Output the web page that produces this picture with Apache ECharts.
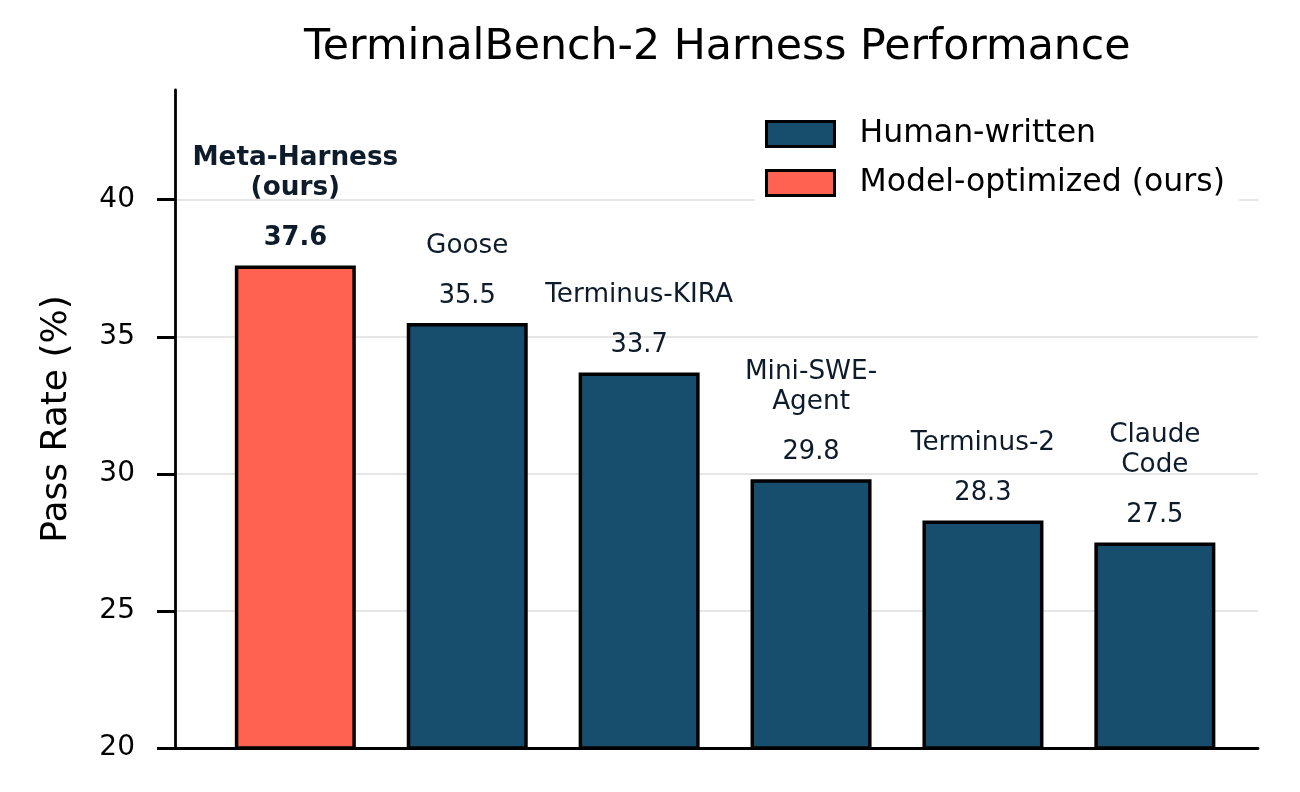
<!DOCTYPE html>
<html>
<head>
<meta charset="utf-8">
<script src="https://cdn.jsdelivr.net/npm/echarts@6.0.0/dist/echarts.min.js"></script>
<style>
  html, body { margin: 0; padding: 0; background: #fff; }
  #chart { width: 1300px; height: 792px; }
</style>
</head>
<body>
<div id="chart"></div>
<script>
// harness names (line breaks as in the figure) and pass rates
const harnesses = ['Meta-Harness\n(ours)', 'Goose', 'Terminus-KIRA', 'Mini-SWE-\nAgent', 'Terminus-2', 'Claude\nCode'];
const passRates = [37.6, 35.5, 33.7, 29.8, 28.3, 27.5];
const isOurs = [true, false, false, false, false, false];
const yTicks = [20, 25, 30, 35, 40];

const BLUE = '#174e6e';
const RED = '#ff6250';
const LABEL = '#0d1b2a';
const FONT = 'DejaVu Sans';

var chart = echarts.init(document.getElementById('chart'));

function barData(ours) {
  var out = [];
  harnesses.forEach(function (h, i) {
    if (isOurs[i] === ours) out.push({ name: h, value: [i, passRates[i]] });
  });
  return out;
}

var barCommon = {
  type: 'bar',
  barWidth: 121,
  barGap: '-100%',
  label: {
    show: true,
    position: 'top',
    distance: 14,
    color: LABEL,
    fontFamily: FONT,
    fontSize: 25.7,
    formatter: function (p) { return p.value[1].toFixed(1); }
  }
};

var option = {
  animation: false,
  backgroundColor: '#fff',
  title: {
    text: 'TerminalBench-2 Harness Performance',
    left: 299,
    top: 21,
    textStyle: { fontFamily: FONT, fontSize: 42.7, fontWeight: 'normal', color: '#000' }
  },
  legend: {
    orient: 'vertical',
    left: 755,
    top: 106,
    padding: [12, 14, 12, 10],
    backgroundColor: '#fff',
    itemWidth: 68,
    itemHeight: 25,
    itemGap: 17,
    icon: 'rect',
    data: ['Human-written', 'Model-optimized (ours)'],
    itemStyle: { borderColor: '#000', borderWidth: 3 },
    textStyle: { fontFamily: FONT, fontSize: 31.5, color: '#000', padding: [0, 0, 0, 20] }
  },
  grid: { left: 175, right: 42, top: 90, bottom: 44, containLabel: false },
  xAxis: {
    type: 'value',
    min: -0.7,
    max: 5.6,
    axisLine: { show: true, onZero: false, lineStyle: { color: '#000', width: 2.8 } },
    axisTick: { show: false },
    axisLabel: { show: false },
    splitLine: { show: false }
  },
  yAxis: {
    type: 'value',
    min: 20,
    max: 44,
    interval: 5,
    name: 'Pass Rate (%)',
    nameLocation: 'middle',
    nameGap: 100,
    nameTextStyle: { fontFamily: FONT, fontSize: 36, color: '#000' },
    axisLine: { show: true, onZero: false, lineStyle: { color: '#000', width: 2.8 } },
    axisTick: { show: true, inside: false, length: 18, lineStyle: { color: '#000', width: 3 }, customValues: yTicks },
    axisLabel: { fontFamily: FONT, fontSize: 28, color: '#000', margin: 40, lineHeight: 34, padding: [6, 0, 0, 0], customValues: yTicks },
    splitLine: { show: true, showMinLine: false, showMaxLine: true, lineStyle: { color: '#dedede', width: 1.5 } }
  },
  series: [
    Object.assign({}, barCommon, {
      name: 'Human-written',
      itemStyle: { color: BLUE, borderColor: '#000', borderWidth: 3.5 },
      data: barData(false)
    }),
    Object.assign({}, barCommon, {
      name: 'Model-optimized (ours)',
      itemStyle: { color: RED, borderColor: '#000', borderWidth: 3.5 },
      label: Object.assign({}, barCommon.label, { fontWeight: 'bold' }),
      data: barData(true)
    }),
    {
      // invisible bars carrying the harness names above each value
      name: 'names',
      type: 'bar',
      barWidth: 121,
      barGap: '-100%',
      silent: true,
      itemStyle: { color: 'rgba(0,0,0,0)', borderWidth: 0 },
      label: {
        show: true,
        position: 'top',
        distance: 62,
        color: LABEL,
        fontFamily: FONT,
        fontSize: 26.3,
        lineHeight: 30,
        formatter: function (p) { return p.name; }
      },
      data: harnesses.map(function (h, i) {
        var d = { name: h, value: [i, passRates[i]] };
        if (isOurs[i]) d.label = { fontWeight: 'bold' };
        return d;
      })
    }
  ]
};

chart.setOption(option);
</script>
</body>
</html>
